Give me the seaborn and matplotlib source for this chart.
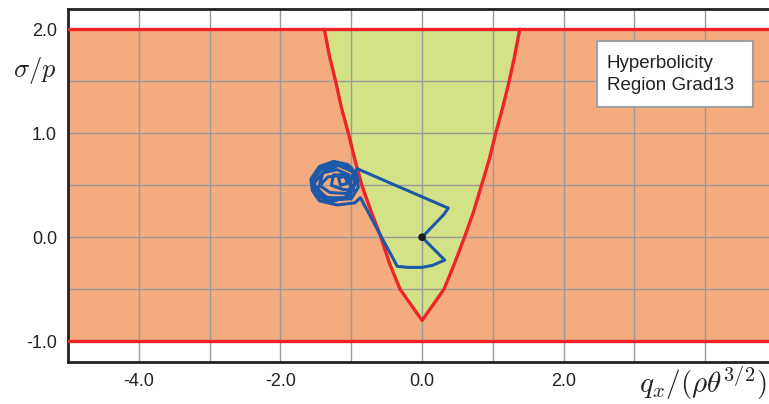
import numpy as np
import pandas as pd
import matplotlib
matplotlib.use("Agg")
import matplotlib.pyplot as plt
from matplotlib.patches import Rectangle
import seaborn as sns

# ---- data ----
# hyperbolicity boundary (q, sigma), left branch -> vertex -> right branch
bound_q = [-1.38, -1.31, -1.22, -1.14, -1.04, -0.95, -0.85, -0.72, -0.58, -0.46, -0.31, 0.00,
           0.31, 0.46, 0.60, 0.73, 0.84, 0.95, 1.04, 1.14, 1.23, 1.31, 1.38]
bound_s = [2.00, 1.75, 1.50, 1.25, 1.00, 0.75, 0.50, 0.25, 0.00, -0.25, -0.50, -0.80,
           -0.50, -0.25, 0.00, 0.25, 0.50, 0.75, 1.00, 1.25, 1.50, 1.75, 2.00]
sigma_upper = 2.0
sigma_lower = -1.0

# trajectory (q, sigma)
traj_q = [0.00, 0.32, 0.15, 0.00, -0.20, -0.35, -0.87,
          -0.95, -1.20, -1.45, -1.55, -1.57, -1.45, -1.25, -1.05, -0.92, -0.90,
          -1.00, -1.25, -1.47, -1.54, -1.42, -1.20, -1.00, -0.93,
          -1.02, -1.28, -1.50, -1.52, -1.38, -1.18, -0.98, -0.95,
          -1.05, -1.30, -1.45, -1.40, -1.20, -1.03, -1.00,
          -1.08, -1.35, -1.48, -1.33, -1.10, -0.96,
          -1.12, -1.28, -1.25, -1.10, -1.05,
          -1.15, -1.18, -1.08, -1.02,
          -0.92, 0.37, 0.31, 0.00]
traj_s = [0.00, -0.22, -0.27, -0.29, -0.29, -0.28, 0.38,
          0.33, 0.31, 0.35, 0.45, 0.56, 0.68, 0.73, 0.70, 0.60, 0.48,
          0.37, 0.36, 0.42, 0.55, 0.66, 0.71, 0.67, 0.55,
          0.40, 0.34, 0.40, 0.52, 0.64, 0.69, 0.63, 0.50,
          0.42, 0.43, 0.50, 0.62, 0.65, 0.60, 0.50,
          0.38, 0.38, 0.47, 0.58, 0.60, 0.45,
          0.46, 0.50, 0.60, 0.60, 0.52,
          0.50, 0.57, 0.59, 0.54,
          0.66, 0.28, 0.22, 0.00]

x_ticks = [-4.0, -2.0, 0.0, 2.0]
x_ticklabels = ["-4.0", "-2.0", "0.0", "2.0"]
y_ticks = [-1.0, 0.0, 1.0, 2.0]
y_ticklabels = ["-1.0", "0.0", "1.0", "2.0"]
x_grid = [-4, -3, -2, -1, 0, 1, 2, 3, 4]
y_grid = [-1.0, -0.5, 0.0, 0.5, 1.0, 1.5, 2.0]

# ---- style ----
sns.set_theme(style="white")
plt.rcParams["font.family"] = ["Liberation Sans", "DejaVu Sans"]
plt.rcParams["mathtext.fontset"] = "cm"

ORANGE = "#F4AC7E"
GREEN = "#D3E286"
RED = "#EE2428"
BLUE = "#1E58A8"
GRID = "#9A9A9A"

fig = plt.figure(figsize=(7.69, 4.04), dpi=100)
ax = fig.add_axes([68 / 769, 42 / 404, 1 - 68 / 769, (362 - 8.5) / 404])

xmin, xmax = -5.0, 4.9
ax.set_xlim(xmin, xmax)
ax.set_ylim(-1.2, 2.2)

# fills
ax.fill_between([xmin, xmax], sigma_lower, sigma_upper, color=ORANGE, lw=0, zorder=0)
ax.fill(bound_q, bound_s, color=GREEN, lw=0, zorder=1)

# grid
for gx in x_grid:
    ax.axvline(gx, color=GRID, lw=1.0, zorder=2)
for gy in y_grid:
    ax.axhline(gy, color=GRID, lw=1.0, zorder=2)

# red boundaries
ax.axhline(sigma_upper, color=RED, lw=2.4, zorder=3)
ax.axhline(sigma_lower, color=RED, lw=2.4, zorder=3)
bdf = pd.DataFrame({"q": bound_q, "s": bound_s})
sns.lineplot(data=bdf, x="q", y="s", sort=False, estimator=None, color=RED, lw=2.4, ax=ax, zorder=4)

# trajectory
tdf = pd.DataFrame({"q": traj_q, "s": traj_s})
sns.lineplot(data=tdf, x="q", y="s", sort=False, estimator=None, color=BLUE, lw=2.2, ax=ax, zorder=5)
sns.scatterplot(x=[traj_q[0]], y=[traj_s[0]], color="#1a1a1a", s=30, ax=ax, zorder=6, edgecolor="none")

ax.set_xlabel("")
ax.set_ylabel("")
ax.set_xticks(x_ticks)
ax.set_xticklabels(x_ticklabels, fontsize=13, color="#222222")
ax.set_yticks(y_ticks)
ax.set_yticklabels(y_ticklabels, fontsize=13, color="#222222")
ax.tick_params(length=0, pad=8)

for side in ["left", "bottom", "top"]:
    ax.spines[side].set_visible(True)
    ax.spines[side].set_color("#222222")
    ax.spines[side].set_linewidth(2.0)
ax.spines["right"].set_visible(False)

# axis labels
fig.text(35 / 769, 1 - 71 / 404, r"$\sigma/p$", fontsize=19, ha="center", va="center", color="#222222")
fig.text(767 / 769, 1 - 393 / 404, r"$q_x/(\rho\theta^{3/2})$", fontsize=21, ha="right", va="baseline", color="#222222")

# annotation box
fig.patches.append(Rectangle((597 / 769, 1 - 107 / 404), 156 / 769, 65.5 / 404,
                             transform=fig.transFigure, facecolor="white",
                             edgecolor="#A0A0A0", lw=1.5, zorder=10))
fig.text(607 / 769, 1 - 74.5 / 404, "Hyperbolicity\nRegion Grad13", fontsize=13.5,
         ha="left", va="center", color="#222222", zorder=11, linespacing=1.35)

fig.savefig("out.png", dpi=100)
